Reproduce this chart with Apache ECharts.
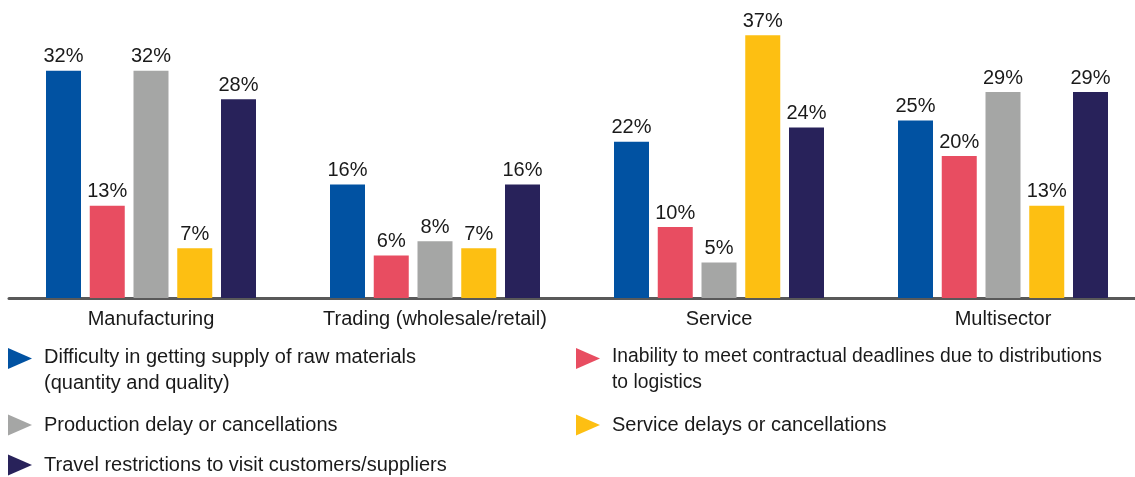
<!DOCTYPE html>
<html>
<head>
<meta charset="utf-8">
<script src="https://cdn.jsdelivr.net/npm/echarts@6/dist/echarts.min.js"></script>
<style>
  html, body { margin: 0; padding: 0; background: #fff; }
  #chart { width: 1135px; height: 477px; }
</style>
</head>
<body>
<div id="chart"></div>
<script>
  // categories and series
  const categories = ["Manufacturing", "Trading (wholesale/retail)", "Service", "Multisector"];
  const seriesNames = [
    "Difficulty in getting supply of raw materials (quantity and quality)",
    "Inability to meet contractual deadlines due to distributions to logistics",
    "Production delay or cancellations",
    "Service delays or cancellations",
    "Travel restrictions to visit customers/suppliers"
  ];
  const supplyValues = [32, 16, 22, 25];
  const deadlineValues = [13, 6, 10, 20];
  const productionValues = [32, 8, 5, 29];
  const serviceValues = [7, 7, 37, 13];
  const travelValues = [28, 16, 24, 29];
  const colors = ["#0152a2", "#e84d61", "#a5a6a5", "#fdbf12", "#28225a"];

  const FONT = "Liberation Sans, Arial, sans-serif";
  const allValues = [supplyValues, deadlineValues, productionValues, serviceValues, travelValues];

  // legend text wrapped like the original
  const legendText = {};
  legendText[seriesNames[0]] = "Difficulty in getting supply of raw materials\n(quantity and quality)";
  legendText[seriesNames[1]] = "Inability to meet contractual deadlines due to distributions\nto logistics";

  const tri1 = "path://M0,0M31,21M0,0L24,10.5L0,21Z";
  const tri2 = "path://M0,0M31,50M0,3L24,13.5L0,24Z";

  function makeLegend(name, left, top, twoLine, size) {
    return {
      data: [name],
      left: left,
      top: top,
      padding: 0,
      icon: twoLine ? tri2 : tri1,
      itemWidth: 31,
      itemHeight: twoLine ? 50 : 21,
      selectedMode: false,
      formatter: function (n) { return legendText[n] || n; },
      textStyle: { fontFamily: FONT, fontSize: size || 20, color: "#1a1a1a", lineHeight: 26 }
    };
  }

  const chart = echarts.init(document.getElementById("chart"));
  chart.setOption({
    animation: false,
    grid: { left: 9, width: 1136, top: 14, bottom: 179, containLabel: false, outerBoundsMode: "none" },
    xAxis: {
      type: "category",
      data: categories,
      axisLine: { lineStyle: { color: "#595959", width: 3 } },
      axisTick: { show: false },
      axisLabel: { interval: 0, fontFamily: FONT, fontSize: 20, color: "#1a1a1a", margin: 11 }
    },
    yAxis: { type: "value", min: 0, max: 40, show: false, splitLine: { show: false } },
    legend: [
      makeLegend(seriesNames[0], 8, 344, true),
      makeLegend(seriesNames[1], 576, 344, true, 19.3),
      makeLegend(seriesNames[2], 8, 412, false),
      makeLegend(seriesNames[3], 576, 412, false),
      makeLegend(seriesNames[4], 8, 452, false)
    ],
    series: seriesNames.map(function (name, i) {
      return {
        name: name,
        type: "bar",
        data: allValues[i],
        barWidth: 35,
        barGap: "25%",
        itemStyle: { color: colors[i] },
        label: {
          show: true,
          position: "top",
          distance: 4,
          formatter: "{c}%",
          fontFamily: FONT,
          fontSize: 20,
          color: "#1a1a1a"
        }
      };
    })
  });
</script>
</body>
</html>
